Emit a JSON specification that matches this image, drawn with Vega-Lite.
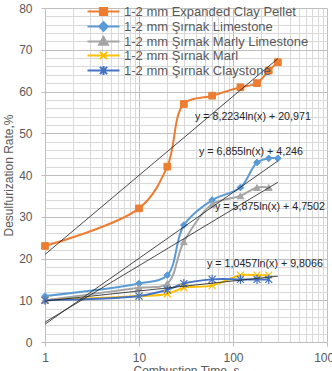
{
  "$schema": "https://vega.github.io/schema/vega-lite/v6.json",
  "width": 282,
  "height": 334,
  "padding": {"left": 2, "top": 2, "right": 0, "bottom": 0},
  "config": {
    "font": "Liberation Sans",
    "view": {"stroke": null},
    "axis": {
      "labelFont": "Liberation Sans",
      "labelFontSize": 12,
      "labelColor": "#595959",
      "titleFont": "Liberation Sans",
      "titleFontSize": 12,
      "titleFontWeight": "normal",
      "titleColor": "#595959",
      "domain": false,
      "tickColor": "#BFBFBF",
      "tickSize": 4
    },
    "legend": {
      "orient": "none",
      "legendX": 52,
      "legendY": -3,
      "padding": 0,
      "rowPadding": -2,
      "symbolSize": 64,
      "symbolStrokeWidth": 2,
      "labelOffset": 14,
      "labelFont": "Liberation Sans",
      "labelFontSize": 13,
      "labelColor": "#595959",
      "labelLimit": 0
    }
  },
  "datasets": {
    "series": [
      {"series": "1-2 mm Expanded Clay Pellet", "t": 1, "rate": 23},
      {"series": "1-2 mm Expanded Clay Pellet", "t": 10, "rate": 32},
      {"series": "1-2 mm Expanded Clay Pellet", "t": 20, "rate": 42},
      {"series": "1-2 mm Expanded Clay Pellet", "t": 30, "rate": 57},
      {"series": "1-2 mm Expanded Clay Pellet", "t": 60, "rate": 59},
      {"series": "1-2 mm Expanded Clay Pellet", "t": 120, "rate": 61},
      {"series": "1-2 mm Expanded Clay Pellet", "t": 180, "rate": 62},
      {"series": "1-2 mm Expanded Clay Pellet", "t": 240, "rate": 65},
      {"series": "1-2 mm Expanded Clay Pellet", "t": 300, "rate": 67},
      {"series": "1-2 mm Şırnak Limestone", "t": 1, "rate": 11},
      {"series": "1-2 mm Şırnak Limestone", "t": 10, "rate": 14},
      {"series": "1-2 mm Şırnak Limestone", "t": 20, "rate": 16},
      {"series": "1-2 mm Şırnak Limestone", "t": 30, "rate": 28},
      {"series": "1-2 mm Şırnak Limestone", "t": 60, "rate": 34},
      {"series": "1-2 mm Şırnak Limestone", "t": 120, "rate": 37},
      {"series": "1-2 mm Şırnak Limestone", "t": 180, "rate": 43},
      {"series": "1-2 mm Şırnak Limestone", "t": 240, "rate": 44},
      {"series": "1-2 mm Şırnak Limestone", "t": 300, "rate": 44},
      {"series": "1-2 mm Şırnak Marly Limestone", "t": 1, "rate": 10},
      {"series": "1-2 mm Şırnak Marly Limestone", "t": 10, "rate": 13},
      {"series": "1-2 mm Şırnak Marly Limestone", "t": 20, "rate": 14},
      {"series": "1-2 mm Şırnak Marly Limestone", "t": 30, "rate": 24},
      {"series": "1-2 mm Şırnak Marly Limestone", "t": 60, "rate": 33},
      {"series": "1-2 mm Şırnak Marly Limestone", "t": 120, "rate": 35},
      {"series": "1-2 mm Şırnak Marly Limestone", "t": 180, "rate": 37},
      {"series": "1-2 mm Şırnak Marly Limestone", "t": 240, "rate": 37},
      {"series": "1-2 mm Şırnak Marl", "t": 1, "rate": 10},
      {"series": "1-2 mm Şırnak Marl", "t": 10, "rate": 11},
      {"series": "1-2 mm Şırnak Marl", "t": 20, "rate": 11.5},
      {"series": "1-2 mm Şırnak Marl", "t": 30, "rate": 13},
      {"series": "1-2 mm Şırnak Marl", "t": 60, "rate": 13.5},
      {"series": "1-2 mm Şırnak Marl", "t": 120, "rate": 16},
      {"series": "1-2 mm Şırnak Marl", "t": 180, "rate": 16},
      {"series": "1-2 mm Şırnak Marl", "t": 240, "rate": 16},
      {"series": "1-2 mm Şırnak Claystone", "t": 1, "rate": 10},
      {"series": "1-2 mm Şırnak Claystone", "t": 10, "rate": 11},
      {"series": "1-2 mm Şırnak Claystone", "t": 20, "rate": 12.5},
      {"series": "1-2 mm Şırnak Claystone", "t": 30, "rate": 14},
      {"series": "1-2 mm Şırnak Claystone", "t": 60, "rate": 15},
      {"series": "1-2 mm Şırnak Claystone", "t": 120, "rate": 15},
      {"series": "1-2 mm Şırnak Claystone", "t": 180, "rate": 15},
      {"series": "1-2 mm Şırnak Claystone", "t": 240, "rate": 15}
    ]
  },
  "encoding": {
    "x": {
      "field": "t",
      "type": "quantitative",
      "scale": {"type": "log", "domain": [1, 1000], "nice": false},
      "axis": {
        "title": "Combustion Time, s",
        "titlePadding": 2,
        "values": [1,2,3,4,5,6,7,8,9,10,20,30,40,50,60,70,80,90,100,200,300,400,500,600,700,800,900,1000],
        "labelExpr": "indexof([1,10,100,1000], datum.value) >= 0 ? datum.value + '' : ''",
        "labelOverlap": false,
        "labelBound": false,
        "labelFlush": false,
        "labelPadding": 6,
        "gridColor": {"condition": {"test": "indexof([1,10,100,1000], datum.value) >= 0", "value": "#BFBFBF"}, "value": "#D9D9D9"},
        "tickOpacity": {"condition": {"test": "indexof([1,10,100,1000], datum.value) >= 0", "value": 1}, "value": 0}
      }
    },
    "y": {
      "field": "rate",
      "type": "quantitative",
      "scale": {"domain": [0, 80], "nice": false},
      "axis": {
        "title": "Desulfurization Rate,%",
        "titlePadding": 3,
        "values": [0,2,4,6,8,10,12,14,16,18,20,22,24,26,28,30,32,34,36,38,40,42,44,46,48,50,52,54,56,58,60,62,64,66,68,70,72,74,76,78,80],
        "labelExpr": "datum.value % 10 === 0 ? datum.value + '' : ''",
        "labelOverlap": false,
        "labelPadding": 9,
        "gridColor": {"condition": {"test": "datum.value % 10 === 0", "value": "#BFBFBF"}, "value": "#D9D9D9"},
        "tickOpacity": {"condition": {"test": "datum.value % 10 === 0", "value": 1}, "value": 0}
      }
    }
  },
  "layer": [
    {
      "data": {"name": "series"},
      "mark": {"type": "line", "interpolate": "catmull-rom", "strokeWidth": 2},
      "encoding": {
        "color": {
          "field": "series",
          "type": "nominal",
          "scale": {
            "domain": ["1-2 mm Expanded Clay Pellet", "1-2 mm Şırnak Limestone", "1-2 mm Şırnak Marly Limestone", "1-2 mm Şırnak Marl", "1-2 mm Şırnak Claystone"],
            "range": ["#ED7D31", "#5B9BD5", "#A5A5A5", "#FFC000", "#4472C4"]
          },
          "legend": {
            "title": null,
            "encode": {
              "symbols": {
                "update": {
                  "shape": {"signal": "['M-4,0L4,0M-0.9,-0.9L0.9,-0.9L0.9,0.9L-0.9,0.9Z','M-4,0L4,0M0,-1.1L1.1,0L0,1.1L-1.1,0Z','M-4,0L4,0M0,-1.1L1.1,0.8L-1.1,0.8Z','M-4,0L4,0M-0.9,-0.9L0.9,0.9M-0.9,0.9L0.9,-0.9','M-4,0L4,0M-0.9,-0.9L0.9,0.9M-0.9,0.9L0.9,-0.9M0,-1.1L0,1.1'][indexof(['1-2 mm Expanded Clay Pellet','1-2 mm Şırnak Limestone','1-2 mm Şırnak Marly Limestone','1-2 mm Şırnak Marl','1-2 mm Şırnak Claystone'], datum.value)]"},
                  "fill": {"signal": "scale('color', datum.value)"},
                  "stroke": {"signal": "scale('color', datum.value)"},
                  "strokeWidth": {"value": 2}
                }
              }
            }
          }
        }
      }
    },
    {
      "data": {"name": "series"},
      "transform": [{"filter": "datum.series === '1-2 mm Expanded Clay Pellet'"}],
      "mark": {"type": "point", "shape": "square", "filled": true, "color": "#ED7D31", "stroke": "#ED7D31", "strokeWidth": 1, "size": 45, "opacity": 1}
    },
    {
      "data": {"name": "series"},
      "transform": [{"filter": "datum.series === '1-2 mm Şırnak Limestone'"}],
      "mark": {"type": "point", "shape": "diamond", "filled": true, "color": "#5B9BD5", "stroke": "#5B9BD5", "strokeWidth": 1, "size": 45, "opacity": 1}
    },
    {
      "data": {"name": "series"},
      "transform": [{"filter": "datum.series === '1-2 mm Şırnak Marly Limestone'"}],
      "mark": {"type": "point", "shape": "triangle-up", "filled": true, "color": "#A5A5A5", "stroke": "#A5A5A5", "strokeWidth": 1, "size": 45, "opacity": 1}
    },
    {
      "data": {"name": "series"},
      "transform": [{"filter": "datum.series === '1-2 mm Şırnak Marl'"}],
      "mark": {"type": "point", "shape": "M-1,-1L1,1M-1,1L1,-1", "filled": false, "color": "#FFC000", "strokeWidth": 1.2, "size": 49, "opacity": 1}
    },
    {
      "data": {"name": "series"},
      "transform": [{"filter": "datum.series === '1-2 mm Şırnak Claystone'"}],
      "mark": {"type": "point", "shape": "M-1,-1L1,1M-1,1L1,-1M0,-1.3L0,1.3", "filled": false, "color": "#4472C4", "strokeWidth": 1.2, "size": 49, "opacity": 1}
    },
    {
      "data": {"values": [
        {"eq": "a", "t": 1, "rate": 20.97},
        {"eq": "a", "t": 300, "rate": 67.88},
        {"eq": "b", "t": 1, "rate": 4.25},
        {"eq": "b", "t": 300, "rate": 43.35},
        {"eq": "c", "t": 1, "rate": 4.75},
        {"eq": "c", "t": 300, "rate": 38.26},
        {"eq": "d", "t": 1, "rate": 9.81},
        {"eq": "d", "t": 300, "rate": 15.77}
      ]},
      "mark": {"type": "line", "color": "#1a1a1a", "strokeWidth": 0.8},
      "encoding": {"detail": {"field": "eq", "type": "nominal"}}
    },
    {
      "data": {"values": [
        {"label": "y = 8,2234ln(x) + 20,971", "t": 39.4, "rate": 53.9},
        {"label": "y = 6,855ln(x) + 4,246", "t": 43.5, "rate": 45.5},
        {"label": "y = 5,875ln(x) + 4,7502", "t": 64.4, "rate": 32.3},
        {"label": "y = 1,0457ln(x) + 9,8066", "t": 52.9, "rate": 18.7}
      ]},
      "mark": {"type": "text", "align": "left", "baseline": "middle", "fontSize": 10.7, "font": "Liberation Sans", "color": "#262626"},
      "encoding": {"text": {"field": "label", "type": "nominal"}}
    }
  ]
}
